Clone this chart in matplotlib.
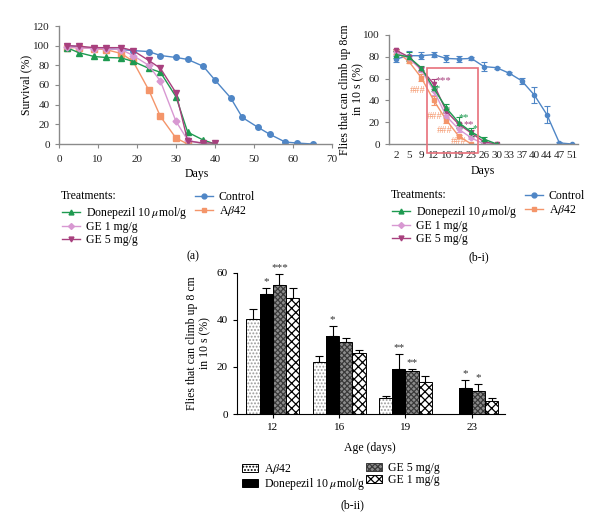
import numpy as np
import matplotlib.pyplot as plt
from matplotlib.lines import Line2D
from matplotlib.patches import Patch, Rectangle

plt.rcParams['font.family'] = ['Liberation Serif', 'DejaVu Serif']
plt.rcParams['mathtext.fontset'] = 'stix'
plt.rcParams['hatch.linewidth'] = 0.9

# ---------------- data ----------------
# (a) survival
days_a = [2, 5, 9, 12, 16, 19, 23, 26, 30, 33, 37, 40, 44, 47, 51, 54, 58, 61, 65]
surv_control = [100, 99, 97, 97, 96, 95, 94, 90, 88, 86, 79, 65, 47, 27, 17, 10, 2, 1, 0]
surv_abeta = [98, 98, 97, 96, 92, 84, 55, 28, 6, 0]
surv_donep = [98, 93, 89, 88, 87.5, 84, 77, 73, 48, 12, 4, 0]
surv_ge1 = [99, 98, 97, 97, 96, 90, 80, 64, 23, 4, 0]
surv_ge5 = [100, 99.5, 98, 98, 98, 95, 85, 77, 52, 3, 1, 1]

# (b-i) climbing
days_b = ['2', '5', '9', '12', '16', '19', '23', '26', '30', '33', '37', '40', '44', '47', '51']
climb_control = [78, 81, 81, 82, 78.5, 78, 78.5, 71, 70, 65, 58, 45, 27, 1, 0]
err_control = [3, 4, 3, 2, 3, 3, 1, 4, 1, 1, 3, 7, 8, 1, 0]
climb_abeta = [85, 76, 61, 40, 22, 7, 0]
err_abeta = [2, 2, 3, 4, 2.5, 1, 0]
climb_donep = [82, 80, 70, 51, 33, 19.5, 11, 4.5, 0]
err_donep = [3, 4, 2, 2.5, 4, 5, 3.5, 2, 0]
climb_ge1 = [84, 79, 68, 49, 25.5, 13.5, 5.5, 0, 0]
err_ge1 = [2, 2, 2, 4, 1.5, 2.5, 1, 0, 0]
climb_ge5 = [86, 80, 69, 55, 30, 18, 10, 2, 0]
err_ge5 = [1, 2, 2, 4.5, 2, 1, 2.5, 1, 0]

# (b-ii) bars
ages = ['12', '16', '19', '23']
bar_abeta = [40.2, 22.2, 6.7, np.nan]
bar_abeta_err = [4.3, 2.4, 1.0, np.nan]
bar_donep = [51, 33.2, 19.3, 10.9]
bar_donep_err = [2.4, 4.0, 6.1, 3.6]
bar_ge5 = [54.8, 30.4, 18.4, 9.8]
bar_ge5_err = [4.6, 2.0, 0.6, 2.8]
bar_ge1 = [49.3, 25.8, 13.6, 5.5]
bar_ge1_err = [4.3, 1.2, 2.7, 1.2]
stars_donep = ['*', '*', '**', '*']
stars_ge5 = ['***', '', '**', '*']

c_control = '#4F86C6'
c_abeta = '#F4956A'
c_donep = '#1E9A50'
c_ge1 = '#D898D2'
c_ge5 = '#A8407E'
axcol = '#8a8a8a'
fs = 8.5

W, H = 600, 532
fig = plt.figure(figsize=(6, 5.32), dpi=100)


def fx(px):
    return px / W


def fy(py):
    return 1 - py / H


def style_axes(ax, col):
    for s in ['top', 'right']:
        ax.spines[s].set_visible(False)
    for s in ['left', 'bottom']:
        ax.spines[s].set_color(col)
        ax.spines[s].set_linewidth(1.0)
    ax.tick_params(colors=col, labelcolor='#222222', labelsize=8, length=3, width=0.8)


# ---------------- (a) ----------------
ax1 = fig.add_axes([fx(59), fy(144), fx(332 - 59), (144 - 26) / H])
ms = 4
ax1.plot(days_a, surv_control, '-o', color=c_control, ms=ms, lw=1)
ax1.plot(days_a[:len(surv_abeta)], surv_abeta, '-s', color=c_abeta, ms=ms, lw=1)
ax1.plot(days_a[:len(surv_donep)], surv_donep, '-^', color=c_donep, ms=ms, lw=1)
ax1.plot(days_a[:len(surv_ge1)], surv_ge1, '-D', color=c_ge1, ms=3.5, lw=1)
ax1.plot(days_a[:len(surv_ge5)], surv_ge5, '-v', color=c_ge5, ms=ms, lw=1)
ax1.set_xlim(0, 70)
ax1.set_ylim(0, 120)
ax1.set_xticks(range(0, 71, 10))
ax1.set_yticks(range(0, 121, 20))
ax1.set_ylabel('Survival (%)', fontsize=fs)
ax1.yaxis.set_label_coords((32 - 59) / (332 - 59), 0.5)
style_axes(ax1, axcol)
ax1.tick_params(axis='x', pad=5)
ax1.set_xlabel('Days', fontsize=fs)
ax1.xaxis.set_label_coords((197 - 59) / (332 - 59), -0.2)

# ---------------- (b-i) ----------------
ax2 = fig.add_axes([fx(389), fy(144), fx(578 - 389), (144 - 35) / H])
xi = np.arange(len(days_b))
ek = dict(capsize=2, elinewidth=0.8, capthick=0.8, lw=1)
ax2.errorbar(xi, climb_control, yerr=err_control, fmt='-o', color=c_control, ms=3, **ek)
ax2.errorbar(xi[:len(climb_abeta)], climb_abeta, yerr=err_abeta, fmt='-s', color=c_abeta, ms=3, **ek)
ax2.errorbar(xi[:len(climb_ge1)], climb_ge1, yerr=err_ge1, fmt='-D', color=c_ge1, ms=2.5, **ek)
ax2.errorbar(xi[:len(climb_ge5)], climb_ge5, yerr=err_ge5, fmt='-v', color=c_ge5, ms=3, **ek)
ax2.errorbar(xi[:len(climb_donep)], climb_donep, yerr=err_donep, fmt='-^', color=c_donep, ms=3, **ek)
ax2.set_xlim(-0.56, 14.48)
ax2.set_ylim(0, 100)
ax2.set_xticks(xi)
ax2.set_xticklabels(days_b)
ax2.set_yticks(range(0, 101, 20))
style_axes(ax2, axcol)
ax2.tick_params(axis='x', length=0, pad=5, labelsize=8)
ax2.set_ylabel('Flies that can climb up 8cm\nin 10 s (%)', fontsize=fs, linespacing=1.1)
ax2.yaxis.set_label_coords((364 - 389) / (578 - 389), 0.5)
ax2.set_xlabel('Days', fontsize=fs)
ax2.xaxis.set_label_coords((483 - 389) / (578 - 389), -0.19)
ax2.add_patch(Rectangle((2.47, -8), 6.5 - 2.47, 70 + 8, fill=False, ec='#E8707A',
                        lw=1.2, clip_on=False, zorder=5))
ann = [('###', 1.75, 49, c_abeta), ('###', 3.1, 25.5, c_abeta), ('###', 3.9, 12.5, c_abeta),
       ('###', 5.0, 2.5, c_abeta), ('***', 3.8, 58, c_ge5), ('**', 5.75, 18, c_ge5),
       ('*', 3.3, 51, c_donep), ('*', 4.1, 32, c_donep), ('**', 5.35, 24, c_donep),
       ('*', 6.3, 14.5, c_donep)]
for t, x, y, c in ann:
    ax2.text(x, y, t, color=c, fontsize=7.5, ha='center', va='center')


# legends for (a) and (b-i)
def line_legend(x0, y0):
    fig.text(fx(x0), fy(y0), 'Treatments:', fontsize=fs, va='center', ha='left')
    h1 = [Line2D([], [], color=c_donep, marker='^', ms=3.5, lw=1),
          Line2D([], [], color=c_ge1, marker='D', ms=3, lw=1),
          Line2D([], [], color=c_ge5, marker='v', ms=3.5, lw=1)]
    l1 = ['Donepezil 10 $\\mu$mol/g', 'GE 1 mg/g', 'GE 5 mg/g']
    fig.legend(h1, l1, loc='upper left', bbox_to_anchor=(fx(x0 - 5), fy(y0 + 3)),
               frameon=False, fontsize=fs, handlelength=1.5, handletextpad=0.5,
               labelspacing=0.05, borderpad=0)


h2 = [Line2D([], [], color=c_control, marker='o', ms=3.5, lw=1),
      Line2D([], [], color=c_abeta, marker='s', ms=3.5, lw=1)]
line_legend(61, 196)
fig.legend(h2, ['Control', 'A$\\beta$42'], loc='upper left', bbox_to_anchor=(fx(189), fy(185)),
           frameon=False, fontsize=fs, handlelength=1.5, handletextpad=0.5,
           labelspacing=0.1, borderpad=0)
line_legend(391, 195)
fig.legend(h2, ['Control', 'A$\\beta$42'], loc='upper left', bbox_to_anchor=(fx(519), fy(184)),
           frameon=False, fontsize=fs, handlelength=1.5, handletextpad=0.5,
           labelspacing=0.1, borderpad=0)
fig.text(fx(193), fy(256), '(a)', fontsize=fs, ha='center', va='center')
fig.text(fx(479), fy(257), '(b-i)', fontsize=fs, ha='center', va='center')

# ---------------- (b-ii) ----------------
ax3 = fig.add_axes([fx(237), fy(414), fx(505 - 237), (414 - 272.7) / H])
g = np.arange(len(ages))
bw = 0.2
series = [(bar_abeta, bar_abeta_err, 'white', '.....', '#9a9a9a'),
          (bar_donep, bar_donep_err, 'black', None, 'black'),
          (bar_ge5, bar_ge5_err, '#8c8c8c', 'xxxxxx', '#3a3a3a'),
          (bar_ge1, bar_ge1_err, 'white', 'xxxx', 'black')]
for k, (vals, errs, fc, hatch, hc) in enumerate(series):
    pos = g + (k - 1.5) * bw
    ax3.bar(pos, vals, bw, color=fc, hatch=hatch, edgecolor=hc, linewidth=0, zorder=2)
    ax3.bar(pos, vals, bw, fill=False, edgecolor='black', linewidth=0.7, zorder=3)
    ax3.errorbar(pos, vals, yerr=[np.zeros(len(vals)), errs], fmt='none', ecolor='black',
                 elinewidth=0.8, capsize=3, capthick=0.8, zorder=1)
for k, stars in [(1, stars_donep), (2, stars_ge5)]:
    vals = series[k][0]
    errs = series[k][1]
    for i, s in enumerate(stars):
        if s:
            ax3.text(g[i] + (k - 1.5) * bw, vals[i] + errs[i] + 0.8, s, ha='center',
                     va='bottom', fontsize=8, color='#333333')
ax3.set_xlim(-0.54, 3.5)
ax3.set_ylim(0, 60)
ax3.set_xticks(g)
ax3.set_xticklabels(ages)
ax3.set_yticks(range(0, 61, 20))
for s in ['top', 'right']:
    ax3.spines[s].set_visible(False)
ax3.tick_params(labelsize=8, length=3, width=0.8)
ax3.set_ylabel('Flies that can climb up 8 cm\nin 10 s (%)', fontsize=fs, linespacing=1.1)
ax3.yaxis.set_label_coords((211 - 237) / (505 - 237), 0.5)
ax3.set_xlabel('Age (days)', fontsize=fs)
ax3.xaxis.set_label_coords((370 - 237) / (505 - 237), -0.2)

hb1 = [Patch(facecolor='white', edgecolor='black', hatch='.....', lw=0.7),
       Patch(facecolor='black', edgecolor='black', lw=0.7)]
hb2 = [Patch(facecolor='#8c8c8c', edgecolor='#3a3a3a', hatch='xxxxxx', lw=0.7),
       Patch(facecolor='white', edgecolor='black', hatch='xxxx', lw=0.7)]
fig.legend(hb1, ['A$\\beta$42', 'Donepezil 10 $\\mu$mol/g'], loc='upper left',
           bbox_to_anchor=(fx(236), fy(456)), frameon=False, fontsize=fs,
           handlelength=1.4, handleheight=0.7, handletextpad=0.5, labelspacing=0.05, borderpad=0)
fig.legend(hb2, ['GE 5 mg/g', 'GE 1 mg/g'], loc='upper left',
           bbox_to_anchor=(fx(360), fy(456)), frameon=False, fontsize=fs,
           handlelength=1.4, handleheight=0.7, handletextpad=0.5, labelspacing=0.05, borderpad=0)
fig.text(fx(352), fy(505), '(b-ii)', fontsize=fs, ha='center', va='center')

fig.savefig('out.png', dpi=100)
